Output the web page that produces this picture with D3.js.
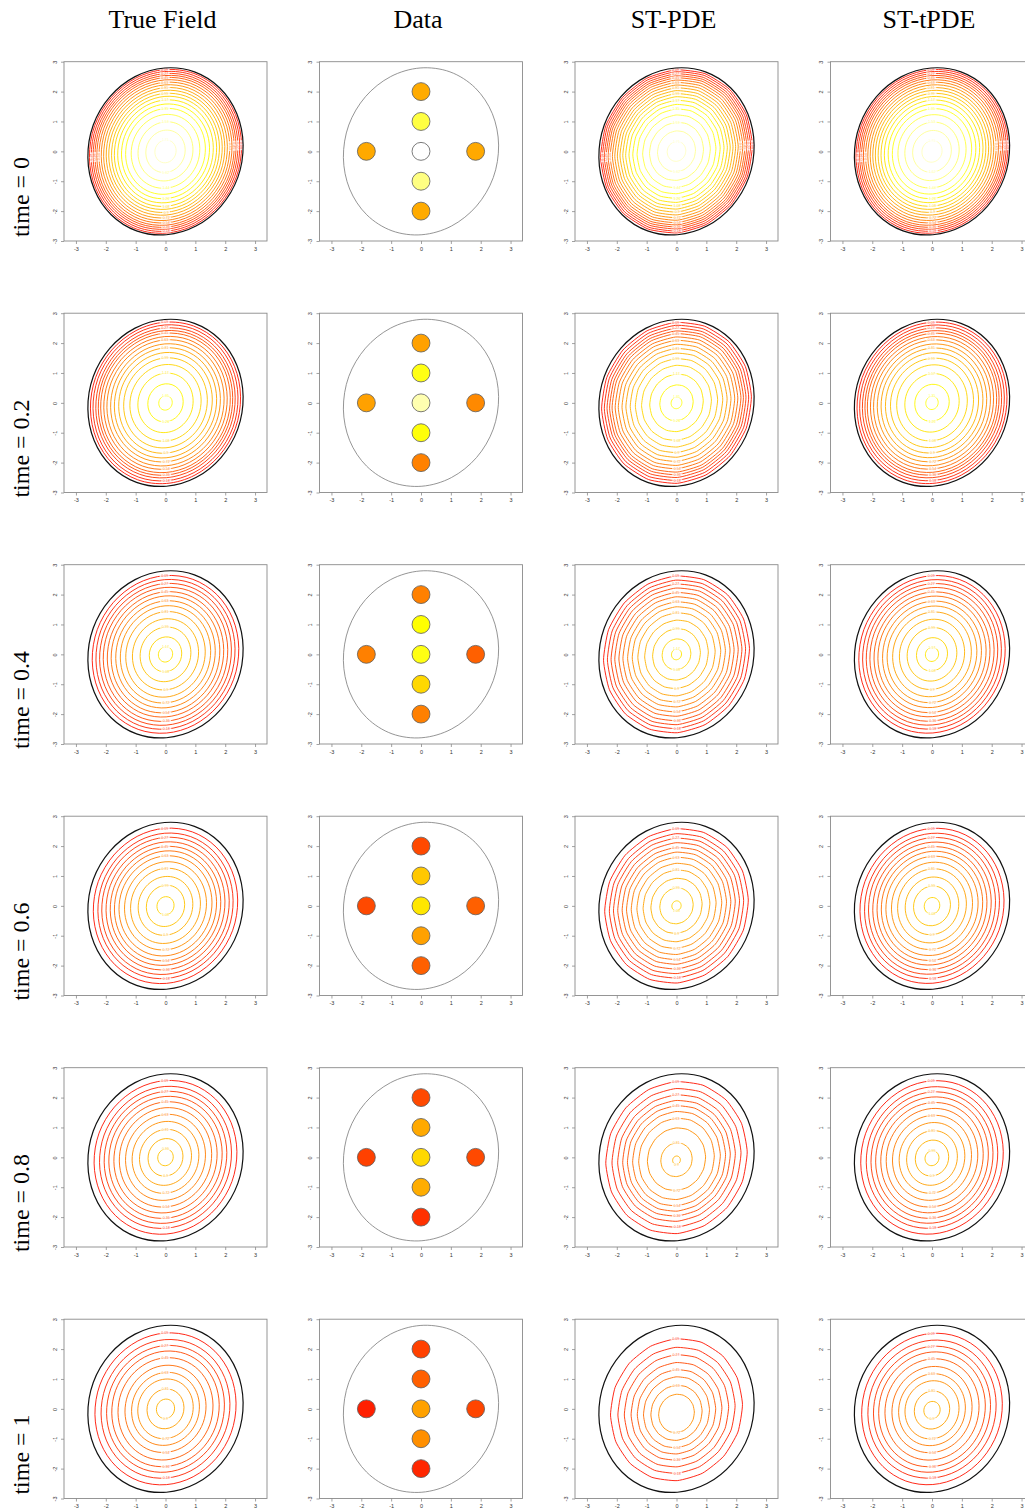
<!DOCTYPE html>
<html>
<head>
<meta charset="utf-8">
<script src="https://cdn.jsdelivr.net/npm/d3@7"></script>
<style>
  body { margin: 0; background: #fff; overflow: hidden; }
  svg { display: block; }
</style>
</head>
<body>
<div id="chart"></div>
<script>
// ---- data ----
const times = [0, 0.2, 0.4, 0.6, 0.8, 1];
const columns = ["True Field", "Data", "ST-PDE", "ST-tPDE"];
const ticks = [-3, -2, -1, 0, 1, 2, 3];
const levelStep = 0.09;

// outline of the domain (data units)
const boundaryX = [2.42, 2.60, 2.39, 1.82, 0.97, -0.03, -1.02, -1.86, -2.42, -2.60, -2.39, -1.82, -0.97, 0.03, 1.02, 1.86];
const boundaryY = [-0.88, 0.21, 1.26, 2.12, 2.66, 2.79, 2.50, 1.83, 0.88, -0.21, -1.26, -2.12, -2.66, -2.79, -2.50, -1.83];

// observation sites and their observed values, one row per time
const siteX = [0, 0, 0, 0, 0, -1.83, 1.83];
const siteY = [2, 1, 0, -1, -2, 0, 0];
const siteValues = [
  [0.87, 1.44, 1.85, 1.58, 0.87, 0.86, 0.86],
  [0.82, 1.34, 1.68, 1.32, 0.66, 0.82, 0.70],
  [0.65, 1.30, 1.34, 1.10, 0.65, 0.65, 0.49],
  [0.37, 1.02, 1.18, 0.82, 0.49, 0.37, 0.49],
  [0.37, 0.86, 1.10, 0.88, 0.25, 0.33, 0.37],
  [0.33, 0.49, 0.82, 0.73, 0.20, 0.16, 0.35]
];

// contour k (value (k+1)*levelStep) as a fraction of the outline size
const trueFrac = [
  [0.980, 0.957, 0.933, 0.909, 0.885, 0.857, 0.828, 0.797, 0.764, 0.731, 0.695, 0.659, 0.616, 0.567, 0.514, 0.442, 0.354, 0.254, 0.137],
  [0.967, 0.934, 0.898, 0.866, 0.835, 0.795, 0.755, 0.707, 0.659, 0.603, 0.539, 0.459, 0.356, 0.228, 0.087],
  [0.944, 0.896, 0.849, 0.802, 0.750, 0.700, 0.641, 0.582, 0.512, 0.426, 0.327, 0.209, 0.092],
  [0.930, 0.871, 0.821, 0.766, 0.712, 0.658, 0.599, 0.528, 0.450, 0.352, 0.247, 0.110],
  [0.920, 0.850, 0.790, 0.730, 0.665, 0.595, 0.515, 0.430, 0.335, 0.225, 0.100],
  [0.909, 0.830, 0.759, 0.692, 0.612, 0.522, 0.437, 0.357, 0.238, 0.117]
];
const pdeFrac = [
  [0.978, 0.955, 0.930, 0.906, 0.882, 0.855, 0.826, 0.795, 0.762, 0.728, 0.692, 0.655, 0.612, 0.563, 0.508, 0.436, 0.348, 0.245, 0.120],
  [0.965, 0.930, 0.895, 0.862, 0.830, 0.790, 0.750, 0.702, 0.652, 0.596, 0.530, 0.450, 0.345, 0.215, 0.070],
  [0.940, 0.890, 0.843, 0.795, 0.742, 0.690, 0.630, 0.570, 0.498, 0.410, 0.308, 0.185, 0.065],
  [0.925, 0.865, 0.812, 0.757, 0.700, 0.644, 0.583, 0.510, 0.430, 0.330, 0.215, 0.060],
  [0.911, 0.831, 0.758, 0.693, 0.632, 0.565, 0.487, 0.375, 0.202, 0.050],
  [0.850, 0.755, 0.672, 0.585, 0.505, 0.425, 0.330, 0.230]
];
const tpdeFrac = [
  [0.979, 0.956, 0.932, 0.908, 0.884, 0.856, 0.827, 0.796, 0.763, 0.730, 0.694, 0.657, 0.614, 0.565, 0.511, 0.439, 0.350, 0.250, 0.130],
  [0.966, 0.932, 0.897, 0.864, 0.833, 0.793, 0.753, 0.705, 0.656, 0.600, 0.535, 0.455, 0.350, 0.222, 0.080],
  [0.943, 0.894, 0.847, 0.800, 0.747, 0.697, 0.637, 0.578, 0.507, 0.420, 0.320, 0.200, 0.085],
  [0.928, 0.869, 0.818, 0.763, 0.708, 0.653, 0.594, 0.522, 0.443, 0.345, 0.238, 0.100],
  [0.918, 0.847, 0.786, 0.726, 0.660, 0.590, 0.509, 0.423, 0.327, 0.215, 0.090],
  [0.906, 0.826, 0.754, 0.687, 0.606, 0.516, 0.430, 0.348, 0.228, 0.105]
];
// vertical offset of the field's peak (data units)
const trueCenterY = [0, 0, 0, 0, 0, 0];
const pdeCenterY = [0, 0, 0, 0, -0.1, -0.2];
const tpdeCenterY = [0, 0, 0, 0, -0.03, -0.05];
// rows where contour labels also sit on the left/right sides
const sideLabelRows = [true, false, false, false, false, false];

// ---- layout ----
const width = 1025, height = 1512;
const colStep = 255.5, rowStep = 251.5;
const boxLeft = 64, boxTop = 61.7, boxW = 203, boxH = 179.3;
const serif = "'Liberation Serif', 'Times New Roman', serif";
const sans = "'Liberation Sans', Arial, sans-serif";

// heat colours: red -> yellow -> white
const heat = d3.scaleLinear()
    .domain([0, 1.3, 1.85])
    .range(["#ff0000", "#ffff00", "#ffffff"])
    .clamp(true);

const fmt = v => String(+v.toFixed(2));

const svg = d3.select("#chart").append("svg")
    .attr("width", width)
    .attr("height", height)
    .attr("viewBox", [0, 0, width, height]);

// column titles
svg.selectAll("text.coltitle")
    .data(columns)
    .join("text")
    .attr("class", "coltitle")
    .attr("x", (d, i) => boxLeft + boxW / 2 - 3 + i * colStep)
    .attr("y", 28)
    .attr("text-anchor", "middle")
    .style("font-family", serif)
    .style("font-size", "26px")
    .text(d => d);

// row labels
svg.selectAll("text.rowlabel")
    .data(times)
    .join("text")
    .attr("class", "rowlabel")
    .attr("transform", (d, i) => `translate(21,${197 + i * rowStep}) rotate(-90)`)
    .attr("dy", "0.35em")
    .attr("text-anchor", "middle")
    .style("font-family", serif)
    .style("font-size", "24px")
    .text(d => `time = ${d}`);

const topIdx = boundaryY.indexOf(d3.max(boundaryY));
const botIdx = boundaryY.indexOf(d3.min(boundaryY));
const rightIdx = boundaryX.indexOf(d3.max(boundaryX));
const leftIdx = boundaryX.indexOf(d3.min(boundaryX));

times.forEach((t, r) => {
    columns.forEach((col, c) => {
        const x0 = boxLeft + c * colStep, y0 = boxTop + r * rowStep;
        const x = d3.scaleLinear().domain([-3.4, 3.4]).range([x0, x0 + boxW]);
        const y = d3.scaleLinear().domain([-3, 3]).range([y0 + boxH, y0]);
        const g = svg.append("g");

        // frame
        g.append("rect")
            .attr("x", x0).attr("y", y0)
            .attr("width", boxW).attr("height", boxH)
            .attr("fill", "none")
            .attr("stroke", "#8a8a8a")
            .attr("stroke-width", 0.9);

        // axes
        const ax = g.append("g")
            .attr("transform", `translate(0,${y0 + boxH})`)
            .call(d3.axisBottom(x).tickValues(ticks).tickFormat(d => String(d))
                .tickSize(3).tickPadding(3).tickSizeOuter(0));
        const ay = g.append("g")
            .attr("transform", `translate(${x0},0)`)
            .call(d3.axisLeft(y).tickValues(ticks).tickFormat(d => String(d))
                .tickSize(3).tickPadding(3).tickSizeOuter(0));
        [ax, ay].forEach(a => {
            a.select(".domain").remove();
            a.selectAll("line").attr("stroke", "#8a8a8a").attr("stroke-width", 0.8);
            a.selectAll("text")
                .attr("fill", "#333")
                .style("font-family", sans)
                .style("font-size", "5.5px");
        });
        ay.selectAll("text")
            .attr("x", null).attr("dy", "0.35em")
            .attr("text-anchor", "middle")
            .attr("transform", "translate(-9,0) rotate(-90)");

        const outline = boundaryX.map((bx, k) => [bx, boundaryY[k]]);

        if (c === 1) {
            // data panel: outline + coloured sites
            g.append("path")
                .attr("d", d3.line().x(d => x(d[0])).y(d => y(d[1])).curve(d3.curveCardinalClosed)(outline))
                .attr("fill", "none")
                .attr("stroke", "#7a7a7a")
                .attr("stroke-width", 0.8);
            const rad = x(0.3) - x(0);
            g.selectAll("circle")
                .data(siteValues[r])
                .join("circle")
                .attr("cx", (d, i) => x(siteX[i]))
                .attr("cy", (d, i) => y(siteY[i]))
                .attr("r", rad)
                .attr("fill", d => heat(d))
                .attr("stroke", "#5a5a5a")
                .attr("stroke-width", 0.8);
            return;
        }

        const fracs = c === 0 ? trueFrac[r] : c === 2 ? pdeFrac[r] : tpdeFrac[r];
        const fcy = c === 0 ? trueCenterY[r] : c === 2 ? pdeCenterY[r] : tpdeCenterY[r];
        const curve = c === 2 ? d3.curveCardinalClosed.tension(0.45) : d3.curveCardinalClosed;
        const line = d3.line().x(d => x(d[0])).y(d => y(d[1])).curve(curve);

        const contours = fracs.map((s, k) => ({
            value: (k + 1) * levelStep,
            pts: outline.map(p => [p[0] * s, p[1] * s + fcy * (1 - s)]),
            s: s,
            k: k
        }));

        g.selectAll("path.contour")
            .data(contours)
            .join("path")
            .attr("class", "contour")
            .attr("d", d => line(d.pts))
            .attr("fill", "none")
            .attr("stroke", d => heat(d.value))
            .attr("stroke-width", 0.9);

        // contour labels (gap + small text)
        const labels = [];
        contours.forEach(d => {
            const p = d.pts[d.k % 2 === 0 ? topIdx : botIdx];
            labels.push({ v: d.value, px: x(p[0]), py: y(p[1]), rot: 0 });
            if (sideLabelRows[r] && d.s > 0.8) {
                const p2 = d.pts[d.k % 2 === 0 ? rightIdx : leftIdx];
                labels.push({ v: d.value, px: x(p2[0]), py: y(p2[1]), rot: d.k % 2 === 0 ? 90 : -90 });
            }
        });
        const lab = g.selectAll("g.lab")
            .data(labels)
            .join("g")
            .attr("class", "lab")
            .attr("transform", d => `translate(${d.px},${d.py}) rotate(${d.rot})`);
        lab.append("rect")
            .attr("x", d => -(fmt(d.v).length * 1.1 + 0.6))
            .attr("y", -1.3)
            .attr("width", d => fmt(d.v).length * 2.2 + 1.2)
            .attr("height", 2.6)
            .attr("fill", "#fff")
            .attr("fill-opacity", 0.8);
        lab.append("text")
            .attr("text-anchor", "middle")
            .attr("dy", "0.35em")
            .attr("fill", d => heat(d.v))
            .attr("fill-opacity", 0.75)
            .style("font-family", sans)
            .style("font-size", "3.6px")
            .text(d => fmt(d.v));

        // domain outline
        g.append("path")
            .attr("d", d3.line().x(d => x(d[0])).y(d => y(d[1])).curve(d3.curveCardinalClosed)(outline))
            .attr("fill", "none")
            .attr("stroke", "#111")
            .attr("stroke-width", 1.2);
    });
});
</script>
</body>
</html>
